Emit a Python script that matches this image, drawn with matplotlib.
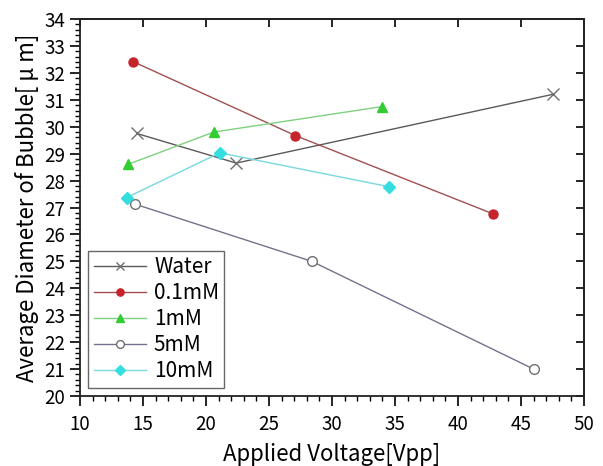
import numpy as np
import matplotlib.pyplot as plt
from matplotlib.ticker import MultipleLocator

plt.rcParams['font.family'] = ['Noto Sans CJK JP', 'DejaVu Sans']

# data
water_x = [14.5, 22.4, 47.5]
water_y = [29.75, 28.65, 31.2]
mm01_x = [14.2, 27.1, 42.75]
mm01_y = [32.42, 29.67, 26.77]
mm1_x = [13.8, 20.6, 34.0]
mm1_y = [28.6, 29.8, 30.75]
mm5_x = [14.4, 28.4, 46.0]
mm5_y = [27.12, 25.0, 21.0]
mm10_x = [13.7, 21.1, 34.55]
mm10_y = [27.37, 29.03, 27.77]
labels = ["Water", "0.1mM", "1mM", "5mM", "10mM"]

fig = plt.figure(figsize=(6.03, 4.66), dpi=100)
ax = fig.add_axes([0.1327, 0.1502, 0.8358, 0.809])

ax.plot(water_x, water_y, color="#5a5a5a", lw=1, marker="x", ms=8, mew=1,
        mec="#707070", label=labels[0])
ax.plot(mm01_x, mm01_y, color="#a05050", lw=1, marker="o", ms=6.5,
        mfc="#c4242a", mec="#c4242a", label=labels[1])
ax.plot(mm1_x, mm1_y, color="#7fd07f", lw=1, marker="^", ms=7.5,
        mfc="#33cc33", mec="#33cc33", label=labels[2])
ax.plot(mm5_x, mm5_y, color="#72728c", lw=1, marker="o", ms=7,
        mfc="white", mec="#707070", mew=1, label=labels[3])
ax.plot(mm10_x, mm10_y, color="#77d8df", lw=1, marker="D", ms=6,
        mfc="#33dde0", mec="#33dde0", label=labels[4])

ax.set_xlim(10, 50)
ax.set_ylim(20, 34)
ax.xaxis.set_major_locator(MultipleLocator(5))
ax.xaxis.set_minor_locator(MultipleLocator(1))
ax.yaxis.set_major_locator(MultipleLocator(1))
ax.yaxis.set_minor_locator(MultipleLocator(0.2))
ax.tick_params(which="major", direction="out", length=7, width=1.2, labelsize=13.5)
ax.tick_params(which="minor", direction="out", length=3.5, width=1)
ax.tick_params(axis="x", which="major", pad=6)

top = ax.secondary_xaxis("top")
top.xaxis.set_major_locator(MultipleLocator(5))
top.tick_params(direction="in", length=6, width=1.2, labeltop=False)
right = ax.secondary_yaxis("right")
right.yaxis.set_major_locator(MultipleLocator(1))
right.tick_params(direction="in", length=6, width=1.2, labelright=False)

for s in list(ax.spines.values()) + [top.spines["top"], right.spines["right"]]:
    s.set_linewidth(1.3)
    s.set_color("#222222")

ax.set_xlabel("Applied Voltage[Vpp]", fontsize=16, labelpad=6)
ax.set_ylabel("Average Diameter of Bubble[ μ m]", fontsize=16, labelpad=4)

leg = ax.legend(loc="lower left", fontsize=15, fancybox=False, framealpha=1,
                edgecolor="#666666", borderaxespad=0.4, handlelength=2.5,
                labelspacing=0.2, handletextpad=0.4, borderpad=0.25,
                markerscale=0.8)
leg.get_frame().set_linewidth(1)

fig.savefig("out.png", dpi=100)
